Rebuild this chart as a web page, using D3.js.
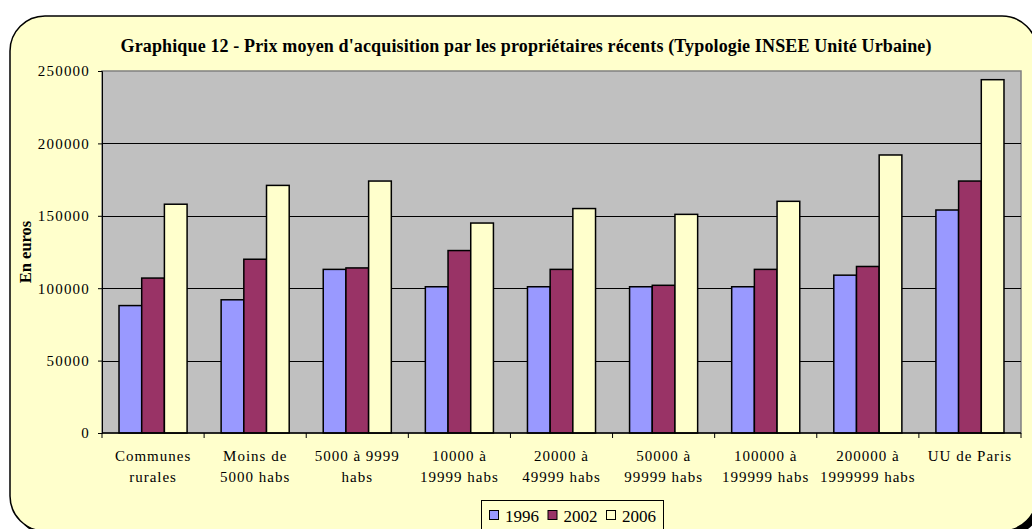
<!DOCTYPE html>
<html>
<head>
<meta charset="utf-8">
<script src="https://cdn.jsdelivr.net/npm/d3@7"></script>
<style>
  html, body { margin: 0; padding: 0; background: #ffffff; }
  svg { display: block; }
  text { font-family: "Liberation Serif", "Times New Roman", serif; fill: #000; }
</style>
</head>
<body>
<svg id="chart" width="1032" height="529"></svg>
<script>
const title = "Graphique 12 - Prix moyen d'acquisition par les propriétaires récents (Typologie INSEE Unité Urbaine)";
const yAxisTitle = "En euros";
const categories = [
  ["Communes", "rurales"],
  ["Moins de", "5000 habs"],
  ["5000 à 9999", "habs"],
  ["10000 à", "19999 habs"],
  ["20000 à", "49999 habs"],
  ["50000 à", "99999 habs"],
  ["100000 à", "199999 habs"],
  ["200000 à", "1999999 habs"],
  ["UU de Paris"]
];
const seriesNames = ["1996", "2002", "2006"];
const values1996 = [88000, 92000, 113000, 101000, 101000, 101000, 101000, 109000, 154000];
const values2002 = [107000, 120000, 114000, 126000, 113000, 102000, 113000, 115000, 174000];
const values2006 = [158000, 171000, 174000, 145000, 155000, 151000, 160000, 192000, 244000];
const yTicks = [0, 50000, 100000, 150000, 200000, 250000];
const colors = ["#9999FF", "#993366", "#FFFFCC"];

const seriesValues = [values1996, values2002, values2006];
const svg = d3.select("#chart");

// Frame with shadow
svg.append("rect").attr("x", 15).attr("y", 21).attr("width", 1027).attr("height", 515)
  .attr("rx", 35).attr("ry", 35).attr("fill", "#000");
svg.append("rect").attr("x", 10).attr("y", 16).attr("width", 1027).attr("height", 515)
  .attr("rx", 35).attr("ry", 35).attr("fill", "#FFFFCC").attr("stroke", "#000").attr("stroke-width", 1.5);

const plot = { left: 102, right: 1021, top: 71, bottom: 433 };

const y = d3.scaleLinear().domain([0, 250000]).range([plot.bottom, plot.top]);
const x0 = d3.scaleBand().domain(d3.range(categories.length)).range([plot.left, plot.right]).padding(0);
const x1 = d3.scaleBand().domain(seriesNames).range([0, x0.bandwidth()]).paddingInner(0).paddingOuter(0.75);
const xEdge = d3.scaleLinear().domain([0, categories.length]).range([plot.left, plot.right]);

// Plot area
svg.append("rect").attr("x", plot.left).attr("y", plot.top)
  .attr("width", plot.right - plot.left).attr("height", plot.bottom - plot.top)
  .attr("fill", "#C0C0C0").attr("stroke", "#808080").attr("stroke-width", 1.5);

// Gridlines
svg.append("g").selectAll("line").data(yTicks.filter(d => d > 0 && d < 250000)).join("line")
  .attr("x1", plot.left).attr("x2", plot.right)
  .attr("y1", d => Math.round(y(d)) + 0.5).attr("y2", d => Math.round(y(d)) + 0.5)
  .attr("stroke", "#000").attr("stroke-width", 1);

// Bars
const groups = svg.append("g").selectAll("g").data(categories).join("g")
  .attr("transform", (d, i) => `translate(${x0(i)},0)`);
groups.selectAll("rect").data((d, i) => seriesNames.map((s, k) => ({ s, k, v: seriesValues[k][i] }))).join("rect")
  .attr("x", d => x1(d.s)).attr("width", x1.bandwidth())
  .attr("y", d => y(d.v)).attr("height", d => y(0) - y(d.v))
  .attr("fill", d => colors[d.k]).attr("stroke", "#000").attr("stroke-width", 1.5);

// Y axis
const yAxis = svg.append("g").attr("transform", `translate(${plot.left},0)`)
  .call(d3.axisLeft(y).tickValues(yTicks).tickSize(4).tickPadding(8).tickFormat(d3.format("d")));
yAxis.select(".domain").attr("stroke", "#000");
yAxis.selectAll("text").attr("font-family", "Liberation Serif").attr("font-size", "15px")
  .attr("letter-spacing", "1.2px").attr("fill", "#000");

// X axis line and ticks
svg.append("line").attr("x1", plot.left).attr("x2", plot.right)
  .attr("y1", plot.bottom).attr("y2", plot.bottom).attr("stroke", "#000").attr("stroke-width", 1.5);
svg.append("g").selectAll("line").data(d3.range(categories.length + 1)).join("line")
  .attr("x1", d => xEdge(d)).attr("x2", d => xEdge(d))
  .attr("y1", plot.bottom).attr("y2", plot.bottom + 5).attr("stroke", "#000");

// X labels
const xl = svg.append("g").selectAll("text").data(categories).join("text")
  .attr("text-anchor", "middle").attr("font-size", "15px").attr("letter-spacing", "1px")
  .attr("transform", (d, i) => `translate(${x0(i) + x0.bandwidth() / 2},0)`);
xl.selectAll("tspan").data(d => d).join("tspan")
  .attr("x", 0).attr("y", (d, j) => 461 + j * 21).text(d => d);

// Title
svg.append("text").attr("x", 526).attr("y", 52).attr("text-anchor", "middle")
  .attr("font-weight", "bold").attr("font-size", "18px")
  .attr("textLength", 811).attr("lengthAdjust", "spacing").text(title);

// Y axis title
svg.append("text").attr("transform", "translate(31,252) rotate(-90)")
  .attr("text-anchor", "middle").attr("font-weight", "bold").attr("font-size", "16.5px").text(yAxisTitle);

// Legend
const legend = svg.append("g");
legend.append("rect").attr("x", 481.5).attr("y", 500.5).attr("width", 182).attr("height", 40)
  .attr("fill", "#FFFFCC").attr("stroke", "#000");
const lx = d3.scalePoint().domain(seriesNames).range([489, 606]);
const li = legend.selectAll("g").data(seriesNames).join("g")
  .attr("transform", d => `translate(${lx(d)},0)`);
li.append("rect").attr("x", 0.5).attr("y", 510.5).attr("width", 9).attr("height", 9)
  .attr("fill", (d, i) => colors[i]).attr("stroke", "#000");
li.append("text").attr("x", 16).attr("y", 522).attr("font-size", "17px").text(d => d);
</script>
</body>
</html>
